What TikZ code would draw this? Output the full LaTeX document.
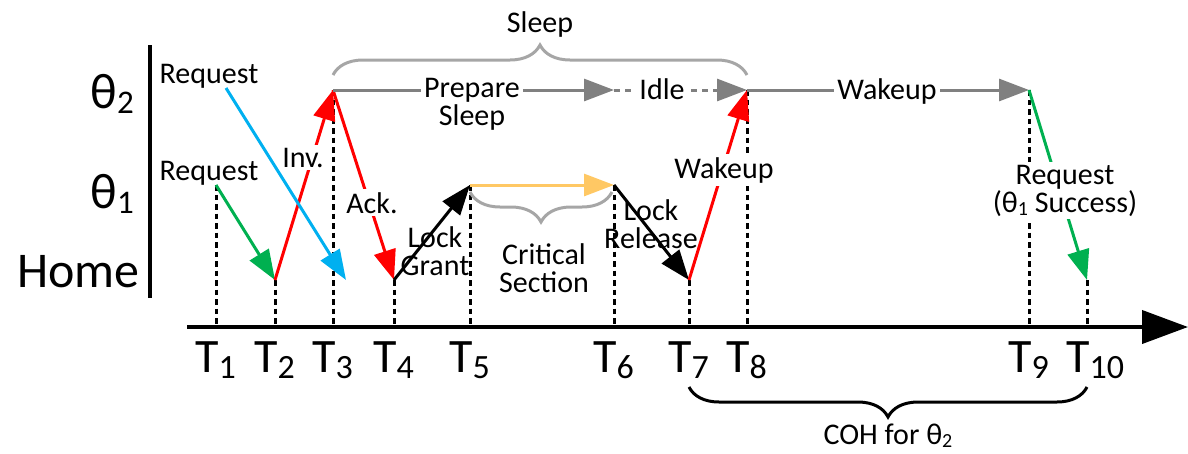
\documentclass[tikz,border=0pt]{standalone}
\usepackage{fontspec}
\setmainfont{Carlito}
\usetikzlibrary{arrows.meta,decorations.pathreplacing}

\definecolor{cRed}{RGB}{255,0,0}
\definecolor{cGreen}{RGB}{0,176,80}
\definecolor{cBlue}{RGB}{0,176,240}
\definecolor{cGold}{RGB}{255,200,100}
\definecolor{cArrowGray}{RGB}{128,128,128}
\definecolor{cBraceGray}{RGB}{166,166,166}

% subscripts for the time labels, the row labels and the small labels
\newcommand\tsub[1]{\raisebox{-6pt}{\fontsize{34}{34}\selectfont #1}}
\newcommand\rsub[1]{\raisebox{-5pt}{\fontsize{33}{33}\selectfont #1}}
\newcommand\lsub[1]{\raisebox{-3pt}{\fontsize{20}{20}\selectfont #1}}

\begin{document}
\begin{tikzpicture}[x=1pt,y=-1pt,
  lbl/.style={font=\fontsize{30}{28}\selectfont, align=center, inner sep=0pt},
  wlbl/.style={lbl, fill=white, inner sep=3pt},
  rowlbl/.style={font=\fontsize{50}{50}\selectfont, inner sep=0pt, anchor=base east},
  tlbl/.style={font=\fontsize{48}{48}\selectfont, inner sep=0pt, anchor=base west},
  msg/.style={line width=3pt, -{Triangle[length=30pt,width=22pt]}},
  guide/.style={line width=3pt, dash pattern=on 5.5pt off 4pt},
  brc/.style={decorate, decoration={brace, amplitude=30pt}, line width=3pt},
]
\useasboundingbox (0,0) rectangle (1188,453);

% event points on the three rows
\coordinate (r1) at (216,185);
\coordinate (h2) at (275,280);
\coordinate (s3) at (333,90);
\coordinate (b0) at (226,88);
\coordinate (b1) at (346,280);
\coordinate (h4) at (394,280);
\coordinate (c5) at (470,185);
\coordinate (c6) at (614,185);
\coordinate (i6) at (614,90);
\coordinate (h7) at (689,280);
\coordinate (s8) at (747,90);
\coordinate (s9) at (1029,90);
\coordinate (h10) at (1087,280);

% time axis and row axis
\coordinate (ax0) at (187,327);
\coordinate (ax1) at (1188,327);
\coordinate (v0) at (150,45);
\coordinate (v1) at (150,298);

% dashed guides down to the time axis
\foreach \p in {r1,h2,s3,h4,c5,c6,h7,s8,s9,h10}
  \draw[guide] (\p) -- (\p |- ax0);

\draw[line width=4pt, -{Triangle[length=46pt,width=33pt]}] (ax0) -- (ax1);
\draw[line width=4pt] (v0) -- (v1);

% row labels
\node[rowlbl] (row2) at (134,108) {θ\rsub{2}};
\node[rowlbl] (row1) at (134,208) {θ\rsub{1}};
\node[rowlbl] (row0) at (140,287) {Home};

% time labels
\node[tlbl] (t1) at (195,372) {T\tsub{1}};
\node[tlbl] (t2) at (254,372) {T\tsub{2}};
\node[tlbl] (t3) at (312,372) {T\tsub{3}};
\node[tlbl] (t4) at (373,372) {T\tsub{4}};
\node[tlbl] (t5) at (449,372) {T\tsub{5}};
\node[tlbl] (t6) at (593,372) {T\tsub{6}};
\node[tlbl] (t7) at (668,372) {T\tsub{7}};
\node[tlbl] (t8) at (726,372) {T\tsub{8}};
\node[tlbl] (t9) at (1008,372) {T\tsub{9}};
\node[tlbl] (t10) at (1066,372) {T\tsub{10}};

% messages
\draw[msg, cGreen] (r1) -- (h2);
\draw[msg, cRed] (h2) -- (s3);
\draw[msg, cRed] (s3) -- (h4);
\draw[msg, cBlue] (b0) -- (b1);
\draw[msg, black] (h4) -- (c5);
\draw[msg, cGold] (c5) -- (c6);
\draw[msg, black] (c6) -- (h7);
\draw[msg, cArrowGray] (s3) -- (i6);
\draw[msg, cArrowGray, dash pattern=on 6pt off 5pt] (i6) -- (s8);
\draw[msg, cRed] (h7) -- (s8);
\draw[msg, cArrowGray] (s8) -- (s9);
\draw[msg, cGreen] (s9) -- (h10);

% braces
\draw[brc, cBraceGray] (333,75) -- (747,75);
\draw[brc, cBraceGray] (612,192) -- (470,192);
\draw[brc, black] (1087,387) -- (689,387);

% labels (two-line labels are placed by the baseline of their last line)
\node[lbl, anchor=base] (lsleep) at (540,32) {Sleep};
\node[lbl, anchor=base] (lreq2) at (209,83) {Request};
\node[lbl, anchor=base] (lreq1) at (209,180) {Request};
\node[wlbl, anchor=base] (linv) at (303,167) {Inv.};
\node[wlbl, anchor=base] (lack) at (372,213) {Ack.};
\node[lbl, anchor=base] (lgrant) at (435,275) {Lock\\Grant};
\node[lbl, anchor=base] (lcrit) at (544,292) {Critical\\Section};
\node[lbl, anchor=base] (lrel) at (651,248) {Lock\\Release};
\node[wlbl, anchor=base] (lwake) at (724,178) {Wakeup};
\node[wlbl, anchor=base] (lprep) at (472,125) {Prepare\\Sleep};
\node[wlbl, anchor=base] (lidle) at (662,99) {Idle};
\node[wlbl, anchor=base] (lwake2) at (887,99) {Wakeup};
\node[wlbl, anchor=base] (lsucc) at (1065,212) {Request\\(θ\lsub{1} Success)};
\node[lbl, anchor=base] (lcoh) at (888,444) {COH for θ\lsub{2}};
\end{tikzpicture}
\end{document}
